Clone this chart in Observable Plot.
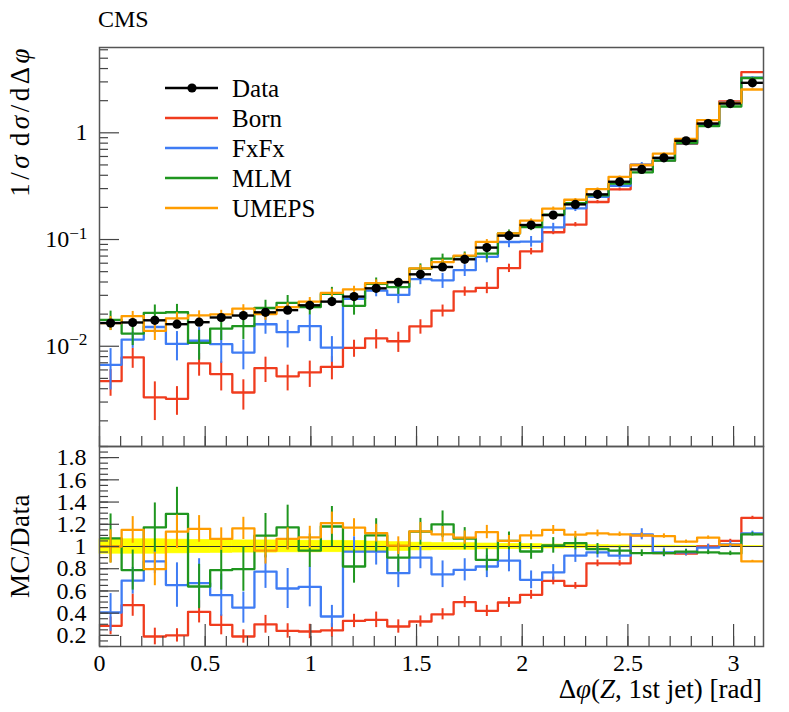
<!DOCTYPE html>
<html><head><meta charset="utf-8">
<script src="https://cdn.jsdelivr.net/npm/d3@7"></script>
<script src="https://cdn.jsdelivr.net/npm/@observablehq/plot@0.6"></script>
<style>
body{margin:0;background:#fff;font-family:"Liberation Serif",serif;}
#wrap{position:relative;width:789px;height:712px;overflow:hidden;}
#wrap > svg{position:absolute;left:0;}
.t{position:absolute;white-space:nowrap;color:#000;line-height:1;}
</style></head><body><div id="wrap"></div>
<script>
// ---- data ----
const seriesNames = ["Born", "FxFx", "MLM", "UMEPS"];
const seriesColors = ["#f03c1e", "#3f7cf4", "#1f961f", "#ff9d00"];
const dataValues = [0.0165,0.0167,0.0175,0.0161,0.0168,0.0186,0.0194,0.0208,0.0218,0.0242,0.0262,0.0292,0.0349,0.0398,0.0472,0.0553,0.0653,0.084,0.1087,0.1368,0.1695,0.2134,0.265,0.348,0.454,0.583,0.842,1.22,1.88,2.94];
const dataRelErr = [0.065,0.065,0.065,0.062,0.06,0.058,0.055,0.055,0.053,0.053,0.052,0.05,0.045,0.04,0.035,0.032,0.03,0.027,0.025,0.022,0.018,0.015,0.012,0.01,0.009,0.008,0.007,0.006,0.005,0.005];
const ratioBorn  = [0.286,0.472,0.19,0.2,0.412,0.295,0.19,0.30,0.24,0.235,0.245,0.33,0.34,0.28,0.325,0.39,0.50,0.42,0.496,0.565,0.69,0.646,0.848,0.848,1.10,0.94,0.935,1.0,1.05,1.257];
const ratioFxFx  = [0.406,0.692,0.866,0.653,0.67,0.562,0.45,0.773,0.622,0.637,0.37,0.953,0.953,0.76,0.90,0.75,0.79,0.82,0.872,0.70,0.767,0.917,0.947,0.917,1.11,0.947,0.947,0.99,1.02,1.118];
const ratioMLM   = [1.073,0.788,1.172,1.293,0.64,0.788,0.797,1.097,1.172,0.962,1.18,0.82,1.10,0.90,1.133,1.20,1.07,0.88,1.05,0.955,1.01,1.03,0.977,0.962,0.94,0.94,0.953,0.947,0.938,1.11];
const ratioUMEPS = [1.0,1.149,0.797,1.133,1.158,1.068,1.163,0.962,1.068,1.082,1.21,1.17,1.12,1.007,1.136,1.11,1.08,1.13,1.05,1.10,1.149,1.106,1.118,1.11,1.10,1.094,1.043,1.08,1.015,0.866];
const errBorn  = [0.08,0.1,0.075,0.06,0.1,0.09,0.06,0.08,0.065,0.065,0.06,0.06,0.07,0.06,0.05,0.05,0.05,0.05,0.045,0.04,0.035,0.03,0.03,0.025,0.025,0.02,0.02,0.02,0.015,0.015];
const errFxFx  = [0.17,0.12,0.11,0.2,0.22,0.19,0.14,0.15,0.18,0.18,0.1,0.135,0.12,0.13,0.1,0.12,0.1,0.1,0.1,0.08,0.07,0.06,0.05,0.04,0.05,0.04,0.03,0.03,0.03,0.02];
const errMLM   = [0.22,0.18,0.22,0.24,0.2,0.18,0.2,0.2,0.2,0.15,0.18,0.15,0.15,0.13,0.12,0.12,0.1,0.1,0.08,0.07,0.07,0.06,0.05,0.04,0.03,0.03,0.02,0.02,0.02,0.015];
const errUMEPS = [0.15,0.12,0.15,0.15,0.12,0.1,0.1,0.12,0.1,0.1,0.1,0.08,0.08,0.08,0.08,0.07,0.06,0.06,0.05,0.04,0.04,0.03,0.03,0.02,0.02,0.02,0.015,0.015,0.01,0.01];
const xTickValues = [0, 0.5, 1, 1.5, 2, 2.5, 3];
const xTickLabels = ["0", "0.5", "1", "1.5", "2", "2.5", "3"];
const yTopTickValues = [0.01, 0.1, 1];
const yTopTickLabels = ["10^−2", "10^−1", "1"];
const yRatioTickValues = [0.2, 0.4, 0.6, 0.8, 1, 1.2, 1.4, 1.6, 1.8];
const yRatioTickLabels = ["0.2", "0.4", "0.6", "0.8", "1", "1.2", "1.4", "1.6", "1.8"];
const legendLabels = ["Data", ...seriesNames];

// ---- build tables ----
const nBins = dataValues.length;
const edges = d3.range(nBins + 1).map(i => i * Math.PI / nBins);
const ratios = {Born: ratioBorn, FxFx: ratioFxFx, MLM: ratioMLM, UMEPS: ratioUMEPS};
const errs = {Born: errBorn, FxFx: errFxFx, MLM: errMLM, UMEPS: errUMEPS};
const steps = [], stepsR = [], bars = [], barsR = [];
for (const s of seriesNames) {
  ratios[s].forEach((r, i) => {
    const v = dataValues[i] * r, c = (edges[i] + edges[i + 1]) / 2, e = errs[s][i];
    steps.push({s, x: edges[i], y: v}, {s, x: edges[i + 1], y: v});
    stepsR.push({s, x: edges[i], y: r}, {s, x: edges[i + 1], y: r});
    bars.push({s, x: c, lo: dataValues[i] * Math.max(r - e, 0.02), hi: dataValues[i] * (r + e)});
    barsR.push({s, x: c, lo: r - e, hi: r + e});
  });
}
const dataRows = dataValues.map((v, i) => ({v, lo: edges[i], hi: edges[i + 1], c: (edges[i] + edges[i + 1]) / 2,
  elo: v * (1 - dataRelErr[i]), ehi: v * (1 + dataRelErr[i]), rlo: 1 - dataRelErr[i], rhi: 1 + dataRelErr[i]}));

// tick positions
const xMinor = d3.range(0, 3.15, 0.1);
const yTopMinor = [];
for (const dec of [0.001, 0.01, 0.1, 1]) for (let k = 2; k <= 9; k++) { const t = +(k * dec).toPrecision(3); if (t > 0.00115 && t < 6.3) yTopMinor.push(t); }
const yRatioMinor = d3.range(0.1, 1.91, 0.05);

const W = 789, ML = 99, MR = 26, PW = W - ML - MR;
const TOP_H = 452, TOP_MT = 47, TOP_MB = 6, TOP_PH = TOP_H - TOP_MT - TOP_MB;
const BOT_H = 272, BOT_MT = 6, BOT_MB = 66, BOT_PH = BOT_H - BOT_MT - BOT_MB;
const tickStroke = "#444";
const TF = 24;
const baseStyle = {background: "none", fontFamily: "Liberation Serif", fontSize: TF + "px", color: "#000", overflow: "visible"};
const fmt = (vals, labs) => { const m = new Map(vals.map((v, i) => [v, labs[i]])); return d => m.get(d); };

const topPlot = Plot.plot({
  width: W, height: TOP_H, marginLeft: ML, marginRight: MR, marginTop: TOP_MT, marginBottom: TOP_MB,
  x: {domain: [0, Math.PI], axis: null},
  y: {type: "log", domain: [0.00115, 6.3]},
  color: {domain: seriesNames, range: seriesColors},
  style: baseStyle,
  marks: [
    Plot.line(steps, {x: "x", y: "y", z: "s", stroke: "s", strokeWidth: 2.3, clip: true}),
    Plot.ruleX(bars, {x: "x", y1: "lo", y2: "hi", stroke: "s", strokeWidth: 2, clip: true}),
    Plot.ruleY(dataRows, {y: "v", x1: "lo", x2: "hi", stroke: "#000", strokeWidth: 2.4}),
    Plot.ruleX(dataRows, {x: "c", y1: "elo", y2: "ehi", stroke: "#000", strokeWidth: 2}),
    Plot.dot(dataRows, {x: "c", y: "v", r: 4.6, fill: "#000", stroke: "none"}),
    Plot.tickY(yTopTickValues, {y: d => d, insetRight: PW - 20, stroke: tickStroke, strokeWidth: 1.2}),
    Plot.tickY(yTopMinor, {y: d => d, insetRight: PW - 9, stroke: tickStroke, strokeWidth: 1.2}),
    Plot.tickX(xTickValues, {x: d => d, insetTop: TOP_PH - 20, stroke: tickStroke, strokeWidth: 1.2}),
    Plot.tickX(xMinor, {x: d => d, insetTop: TOP_PH - 10, stroke: tickStroke, strokeWidth: 1.2}),
    Plot.axisY(yTopTickValues, {tickSize: 0, tickPadding: 12, tickFormat: fmt(yTopTickValues, yTopTickLabels), fontSize: TF}),
    Plot.frame({stroke: "#555", strokeWidth: 1.5})
  ]
});

const botPlot = Plot.plot({
  width: W, height: BOT_H, marginLeft: ML, marginRight: MR, marginTop: BOT_MT, marginBottom: BOT_MB,
  x: {domain: [0, Math.PI]},
  y: {domain: [0.1, 1.9]},
  color: {domain: seriesNames, range: seriesColors},
  style: baseStyle,
  marks: [
    Plot.rect(dataRows, {x1: "lo", x2: "hi", y1: "rlo", y2: "rhi", fill: "#ffff00", stroke: "#ffff00", strokeWidth: 0.6}),
    Plot.ruleY([1], {stroke: "#333", strokeWidth: 1}),
    Plot.line(stepsR, {x: "x", y: "y", z: "s", stroke: "s", strokeWidth: 2.3, clip: true}),
    Plot.ruleX(barsR, {x: "x", y1: "lo", y2: "hi", stroke: "s", strokeWidth: 2, clip: true}),
    Plot.tickY(yRatioTickValues, {y: d => d, insetRight: PW - 20, stroke: tickStroke, strokeWidth: 1.2}),
    Plot.tickY(yRatioMinor, {y: d => d, insetRight: PW - 9, stroke: tickStroke, strokeWidth: 1.2}),
    Plot.tickX(xTickValues, {x: d => d, insetTop: BOT_PH - 22, stroke: tickStroke, strokeWidth: 1.2}),
    Plot.tickX(xMinor, {x: d => d, insetTop: BOT_PH - 10, stroke: tickStroke, strokeWidth: 1.2}),
    Plot.axisY(yRatioTickValues, {tickSize: 0, tickPadding: 13, tickFormat: fmt(yRatioTickValues, yRatioTickLabels), fontSize: TF}),
    Plot.axisX(xTickValues, {tickSize: 0, tickPadding: 7, tickFormat: fmt(xTickValues, xTickLabels), fontSize: TF, label: null}),
    Plot.frame({stroke: "#555", strokeWidth: 1.5})
  ]
});

// superscripts in log tick labels
d3.select(topPlot).selectAll("text").each(function () {
  const t = this.textContent;
  if (t.includes("^")) {
    const [b, e] = t.split("^");
    const sel = d3.select(this); sel.text(null);
    sel.append("tspan").text(b);
    sel.append("tspan").attr("dy", "-0.5em").attr("font-size", "0.72em").text(e);
  }
});

const wrap = document.getElementById("wrap");
topPlot.style.top = "0px"; botPlot.style.top = (446 - BOT_MT) + "px";
wrap.appendChild(topPlot); wrap.appendChild(botPlot);

// titles
function addText(html, css) { const d = document.createElement("div"); d.className = "t"; d.innerHTML = html; Object.assign(d.style, css); wrap.appendChild(d); return d; }
addText("CMS", {left: "98px", top: "7px", fontSize: "24px"});
addText("1/<i>σ</i>&#8202;d<i>σ</i>/dΔ<i>φ</i>", {left: "20px", top: "45px", fontSize: "27px", letterSpacing: "3.5px", transformOrigin: "0 0", transform: "rotate(-90deg) translate(-100%, -50%)"});
addText("MC/Data", {left: "20px", top: "546px", fontSize: "27px", letterSpacing: "0.5px", transformOrigin: "0 0", transform: "rotate(-90deg) translate(-50%, -50%)"});
addText("Δ<i>φ</i>(<i>Z</i>, 1st jet) [rad]", {right: "27px", top: "676px", fontSize: "27px"});

// legend
const legend = document.createElement("div");
legend.style.cssText = "position:absolute;left:165px;top:76px;";
wrap.appendChild(legend);
legendLabels.forEach((lab, i) => {
  const row = document.createElement("div");
  row.style.cssText = `position:absolute;left:0;top:${i * 30}px;height:24px;display:flex;align-items:center;white-space:nowrap;`;
  const color = i === 0 ? "#000" : seriesColors[i - 1];
  row.innerHTML = `<svg width="54" height="24" style="display:block"><line x1="0" x2="53" y1="12" y2="12" stroke="${color}" stroke-width="2.4"/>${i === 0 ? '<circle cx="27" cy="12" r="4.6" fill="#000"/>' : ''}</svg><span style="margin-left:13px;font-size:25px;line-height:1;">${lab}</span>`;
  legend.appendChild(row);
});
</script></body></html>
